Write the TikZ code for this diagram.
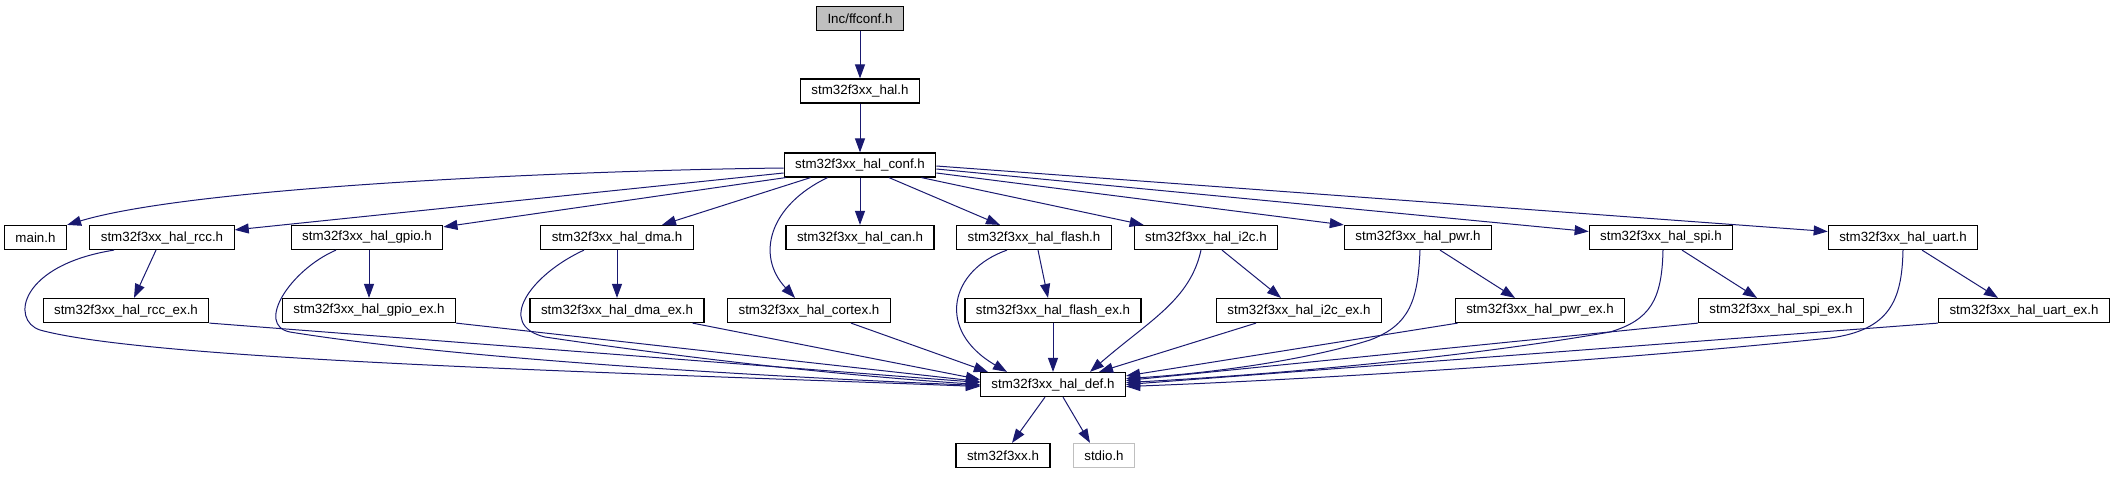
\documentclass[tikz,border=0pt]{standalone}
\usepackage{fontspec}
\setmainfont{Liberation Sans}
\usetikzlibrary{arrows.meta,calc}
\definecolor{edgecol}{HTML}{191970}
\definecolor{graybox}{HTML}{BFBFBF}
\begin{document}
\begin{tikzpicture}[x=0.75pt,y=-0.75pt,
  box/.style={draw=black,line width=0.9pt,fill=white,inner xsep=8.25pt,inner ysep=0pt,minimum height=18pt,font=\fontsize{10pt}{12pt}\selectfont},
  rootbox/.style={box,fill=graybox},
  extbox/.style={box,draw=graybox},
  dep/.style={draw=edgecol,line width=0.75pt,-{Triangle[length=10.5pt,width=7.5pt]}}]
\useasboundingbox (0,0) rectangle (2114,476);
% row 0-2
\node[rootbox] (ffconf) at (860,18.5) {Inc/ffconf.h};
\node[box] (hal) at (860,91) {stm32f3xx\_hal.h};
\node[box] (conf) at (860,165) {stm32f3xx\_hal\_conf.h};
% row 3
\node[box] (main) at (35.5,237.5) {main.h};
\node[box] (rcc) at (162,237.5) {stm32f3xx\_hal\_rcc.h};
\node[box] (gpio) at (367,237.5) {stm32f3xx\_hal\_gpio.h};
\node[box] (dma) at (617,237.5) {stm32f3xx\_hal\_dma.h};
\node[box] (can) at (860,237.5) {stm32f3xx\_hal\_can.h};
\node[box] (flash) at (1034,237.5) {stm32f3xx\_hal\_flash.h};
\node[box] (i2c) at (1206,237.5) {stm32f3xx\_hal\_i2c.h};
\node[box] (pwr) at (1418,237.5) {stm32f3xx\_hal\_pwr.h};
\node[box] (spi) at (1661,237.5) {stm32f3xx\_hal\_spi.h};
\node[box] (uart) at (1903,237.5) {stm32f3xx\_hal\_uart.h};
% row 4
\node[box] (rccex) at (126,310.5) {stm32f3xx\_hal\_rcc\_ex.h};
\node[box] (gpioex) at (369,310.5) {stm32f3xx\_hal\_gpio\_ex.h};
\node[box] (dmaex) at (617,310.5) {stm32f3xx\_hal\_dma\_ex.h};
\node[box] (cortex) at (809,310.5) {stm32f3xx\_hal\_cortex.h};
\node[box] (flashex) at (1053,310.5) {stm32f3xx\_hal\_flash\_ex.h};
\node[box] (i2cex) at (1299,310.5) {stm32f3xx\_hal\_i2c\_ex.h};
\node[box] (pwrex) at (1540,310.5) {stm32f3xx\_hal\_pwr\_ex.h};
\node[box] (spiex) at (1781,310.5) {stm32f3xx\_hal\_spi\_ex.h};
\node[box] (uartex) at (2024,310.5) {stm32f3xx\_hal\_uart\_ex.h};
% row 5-6
\node[box] (def) at (1053,384.5) {stm32f3xx\_hal\_def.h};
\node[box] (stm) at (1003,455.5) {stm32f3xx.h};
\node[extbox] (stdio) at (1104,455.5) {stdio.h};
% edges top
\draw[dep] (ffconf.south) -- (hal.north);
\draw[dep] (hal.south) -- (conf.north);
\draw[dep] ($(conf.west)+(0,3)$) .. controls (600,170) and (200,185) .. (main.north east);
\draw[dep] ($(conf.west)+(0,8)$) -- ($(rcc.north east)+(0,5)$);
\draw[dep] ($(conf.south west)+(2,0)$) -- ($(gpio.north east)+(0,2)$);
\draw[dep] ($(conf.south west)+(27,0)$) -- ($(dma.north)+(45,0)$);
\draw[dep] ($(conf.south west)+(44,0)$) .. controls (770,205) and (755,255) .. ($(cortex.north)+(-14,0)$);
\draw[dep] (conf.south) -- (can.north);
\draw[dep] ($(conf.south)+(29,0)$) -- ($(flash.north)+(-34,0)$);
\draw[dep] ($(conf.south east)+(-15,0)$) -- ($(i2c.north west)+(10,0)$);
\draw[dep] ($(conf.east)+(0,8)$) -- (pwr.north west);
\draw[dep] ($(conf.east)+(0,4)$) -- ($(spi.west)+(0,-6)$);
\draw[dep] ($(conf.east)+(0,1)$) -- ($(uart.west)+(0,-6)$);
% row 3 edges
\draw[dep] ($(rcc.south)+(-6,0)$) -- ($(rccex.north)+(8,0)$);
\draw[dep] ($(rcc.south)+(-48,0)$) .. controls (20,265) and (10,320) .. (40,330) .. controls (150,360) and (600,372) .. ($(def.west)+(0,2)$);
\draw[dep] ($(gpio.south)+(2,0)$) -- (gpioex.north);
\draw[dep] ($(gpio.south)+(-31,0)$) .. controls (290,270) and (255,325) .. (290,332) .. controls (450,358) and (750,376) .. ($(def.west)+(0,1)$);
\draw[dep] (dma.south) -- (dmaex.north);
\draw[dep] ($(dma.south)+(-33,0)$) .. controls (530,275) and (495,325) .. (545,337) .. controls (700,360) and (850,376) .. ($(def.west)+(0,0)$);
\draw[dep] ($(flash.south)+(4,0)$) -- ($(flashex.north)+(-5,0)$);
\draw[dep] ($(flash.south)+(-27,0)$) .. controls (950,270) and (935,330) .. ($(def.north)+(-46,0)$);
\draw[dep] ($(i2c.south)+(-5,0)$) .. controls (1190,300) and (1150,320) .. ($(def.north)+(37,0)$);
\draw[dep] ($(i2c.south)+(16,0)$) -- ($(i2cex.north)+(-18,0)$);
\draw[dep] ($(pwr.south)+(22,0)$) -- ($(pwrex.north)+(-25,0)$);
\draw[dep] ($(pwr.south)+(2,0)$) .. controls (1418,300) and (1410,325) .. (1370,340) .. controls (1300,362) and (1200,374) .. ($(def.east)+(0,-6)$);
\draw[dep] ($(spi.south)+(21,0)$) -- ($(spiex.north)+(-24,0)$);
\draw[dep] ($(spi.south)+(2,0)$) .. controls (1662,300) and (1650,320) .. (1610,332) .. controls (1450,360) and (1250,376) .. ($(def.east)+(0,-2)$);
\draw[dep] ($(uart.south)+(19,0)$) -- ($(uartex.north)+(-26,0)$);
\draw[dep] (uart.south) .. controls (1902,300) and (1890,330) .. (1830,338) .. controls (1600,362) and (1300,380) .. ($(def.east)+(0,2)$);
% row 4 edges
\draw[dep] (rccex.south east) -- ($(def.west)+(0,-2)$);
\draw[dep] (gpioex.south east) -- ($(def.west)+(0,-3)$);
\draw[dep] ($(dmaex.south east)+(-12,0)$) -- ($(def.west)+(0,-5)$);
\draw[dep] ($(cortex.south)+(42,0)$) -- ($(def.north west)+(8,0)$);
\draw[dep] (flashex.south) -- (def.north);
\draw[dep] ($(i2cex.south)+(-43,0)$) -- ($(def.north)+(46,0)$);
\draw[dep] ($(pwrex.south west)+(3,0)$) -- ($(def.north east)+(0,4)$);
\draw[dep] (spiex.south west) -- ($(def.east)+(0,-4)$);
\draw[dep] (uartex.south west) -- ($(def.east)+(0,0)$);
% bottom
\draw[dep] ($(def.south)+(-8,0)$) -- ($(stm.north)+(9,0)$);
\draw[dep] ($(def.south)+(10,0)$) -- ($(stdio.north)+(-14,0)$);
\end{tikzpicture}
\end{document}
